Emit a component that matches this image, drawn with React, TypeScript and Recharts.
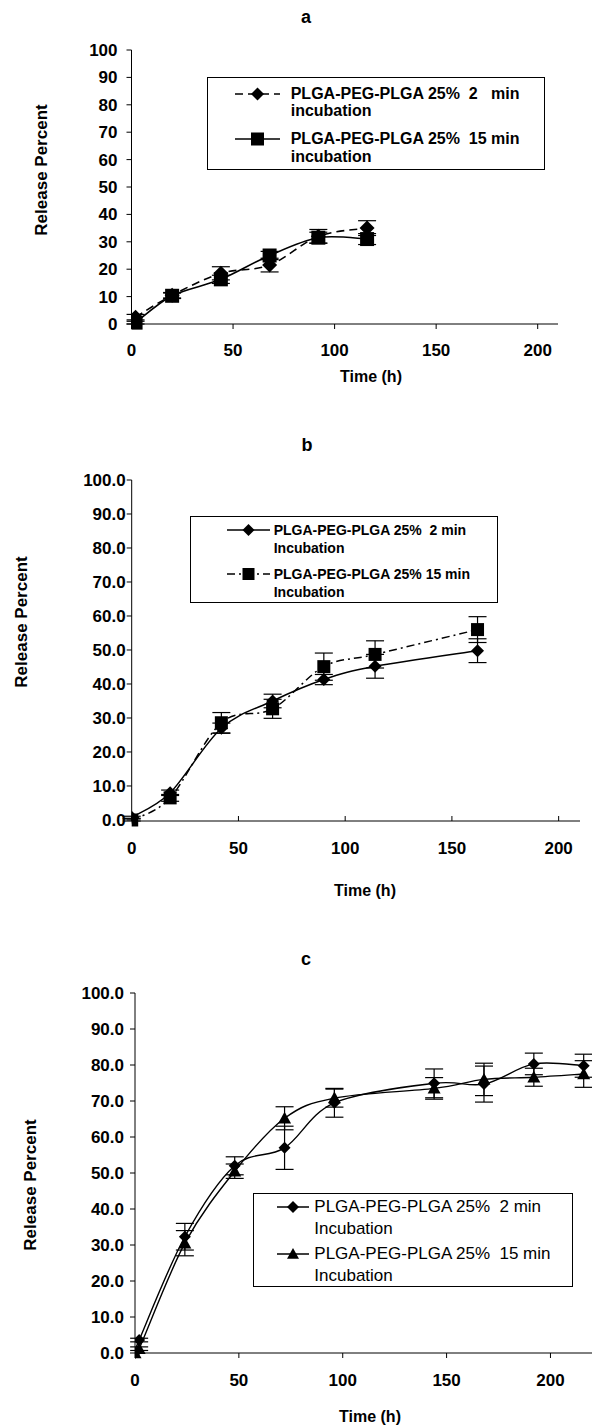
import React from "react";
import { ErrorBar, Legend, Line, LineChart, XAxis, YAxis } from "recharts";

const FONT = "'Liberation Sans', Arial, Helvetica, sans-serif";

// panel a – sampling times (h) and release (%)
const timeA = [2, 20, 44, 68, 92, 116];
const a2min = [2.5, 10.5, 18.5, 21.5, 32, 35];
const a2minErr = [1, 1, 2.4, 2.5, 2.5, 2.7];
const a15min = [0.5, 10.3, 16.3, 25, 31.5, 31];
const a15minErr = [0.5, 1, 1.5, 1.5, 2, 2];

// panel b
const timeB = [0, 18, 42, 66, 90, 114, 162];
const b2min = [0.8, 8, 27, 35, 41.3, 45.2, 49.8];
const b2minErr = [0.3, 0.8, 1.5, 2, 1.5, 3.5, 3.5];
const b15min = [0, 6.5, 28.6, 32.7, 45.1, 48.7, 56];
const b15minErr = [0.3, 1, 3, 2.8, 4, 4, 3.8];

// panel c
const timeC = [0, 2, 24, 48, 72, 96, 144, 168, 192, 216];
const c2min = [0, 3.6, 32.3, 52, 57, 69.5, 74.9, 74.7, 80.3, 79.8];
const c2minErr = [0, 0.5, 3.7, 2.5, 6, 4, 4, 5, 3, 3.2];
const c15min = [0, 1.2, 30.5, 50.5, 65.2, 70.8, 73.5, 76, 76.6, 77.5];
const c15minErr = [0, 0.5, 3.5, 2, 3.2, 2.5, 3, 4.5, 2.5, 3.7];

const xTicks = [0, 50, 100, 150, 200];
const yTicks = [0, 10, 20, 30, 40, 50, 60, 70, 80, 90, 100];

const build = (t: number[], s1: number[], e1: number[], s2: number[], e2: number[]) =>
  t.map((x, i) => ({ t: x, s1: s1[i], e1: e1[i], s2: s2[i], e2: e2[i] }));

// Excel-like smoothed line (Catmull-Rom through the points)
function smoothCurve(context: any) {
  let pts: number[][] = [];
  return {
    areaStart() {},
    areaEnd() {},
    lineStart() {
      pts = [];
    },
    point(x: number, y: number) {
      pts.push([+x, +y]);
    },
    lineEnd() {
      const n = pts.length;
      if (!n) return;
      context.moveTo(pts[0][0], pts[0][1]);
      for (let i = 0; i < n - 1; i++) {
        const p0 = pts[i - 1] || pts[i];
        const p1 = pts[i];
        const p2 = pts[i + 1];
        const p3 = pts[i + 2] || p2;
        context.bezierCurveTo(
          p1[0] + (p2[0] - p0[0]) / 6,
          p1[1] + (p2[1] - p0[1]) / 6,
          p2[0] - (p3[0] - p1[0]) / 6,
          p2[1] - (p3[1] - p1[1]) / 6,
          p2[0],
          p2[1],
        );
      }
    },
  };
}

type Marker = "diamond" | "square" | "triangle";

function markerShape(kind: Marker, cx: number, cy: number, s: number, key?: any) {
  if (kind === "diamond")
    return <path key={key} d={`M${cx},${cy - s}L${cx + s},${cy}L${cx},${cy + s}L${cx - s},${cy}Z`} fill="#000" />;
  if (kind === "square")
    return <rect key={key} x={cx - s} y={cy - s} width={2 * s} height={2 * s} fill="#000" />;
  return <path key={key} d={`M${cx},${cy - s}L${cx + s},${cy + s * 0.8}L${cx - s},${cy + s * 0.8}Z`} fill="#000" />;
}

const dotFor = (kind: Marker, s: number) => (p: any) =>
  markerShape(kind, p.cx, p.cy, s, `${kind}-${p.index}`);

interface SeriesCfg {
  key: "s1" | "s2";
  err: "e1" | "e2";
  marker: Marker;
  size: number;
  dash?: string;
  label: string[];
}

interface LegendCfg {
  left: number;
  top: number;
  width: number;
  height: number;
  fontSize: number;
  bold: boolean;
  lineHeight: number;
  rows: number[];
  symX1: number;
  symX2: number;
  textX: number;
  markerSize: number;
}

function LegendBox({ series, cfg }: { series: SeriesCfg[]; cfg: LegendCfg }) {
  return (
    <div
      style={{
        position: "relative",
        width: cfg.width,
        height: cfg.height,
        border: "1px solid #000",
        boxSizing: "border-box",
        background: "#fff",
        fontFamily: FONT,
        fontSize: cfg.fontSize,
        fontWeight: cfg.bold ? "bold" : "normal",
        color: "#000",
      }}
    >
      {series.map((s, i) => {
        const y = cfg.rows[i];
        const mid = (cfg.symX1 + cfg.symX2) / 2;
        return (
          <React.Fragment key={s.key}>
            <svg
              style={{ position: "absolute", left: 0, top: y - 10 }}
              width={cfg.symX2 + 2}
              height={20}
            >
              <line x1={cfg.symX1} x2={cfg.symX2} y1={10} y2={10} stroke="#000" strokeWidth={1.5} strokeDasharray={s.dash} />
              {markerShape(s.marker, mid, 10, cfg.markerSize)}
            </svg>
            {s.label.map((txt, j) => (
              <div
                key={j}
                style={{
                  position: "absolute",
                  left: cfg.textX,
                  top: y + j * cfg.lineHeight - cfg.lineHeight / 2,
                  height: cfg.lineHeight,
                  lineHeight: `${cfg.lineHeight}px`,
                  whiteSpace: "pre",
                }}
              >
                {txt}
              </div>
            ))}
          </React.Fragment>
        );
      })}
    </div>
  );
}

interface PanelCfg {
  title: string;
  top: number;
  height: number;
  margin: { top: number; right: number; bottom: number; left: number };
  xMax: number;
  data: any[];
  series: SeriesCfg[];
  legend: LegendCfg;
  yFmt: (v: number) => string;
  tickFont: number;
  yTickMargin: number;
  xTickSize: number;
  xTickMargin: number;
  titlePos: [number, number];
  xLabelPos: [number, number];
  yLabelPos: [number, number];
  strokeWidth: number;
}

const Y_AXIS_W = 70;
const X_AXIS_H = 40;

function Panel({ cfg }: { cfg: PanelCfg }) {
  const tick = { fontSize: cfg.tickFont, fontWeight: "bold", fill: "#000", fontFamily: FONT };
  const textStyle: React.CSSProperties = {
    position: "absolute",
    fontFamily: FONT,
    fontWeight: "bold",
    fontSize: 16,
    transform: "translate(-50%, -50%)",
    whiteSpace: "nowrap",
  };
  return (
    <div style={{ position: "absolute", left: 0, top: cfg.top, width: 592, height: cfg.height }}>
      <LineChart width={592} height={cfg.height} data={cfg.data} margin={cfg.margin}>
        <XAxis
          type="number"
          dataKey="t"
          domain={[0, cfg.xMax]}
          ticks={xTicks}
          allowDataOverflow
          stroke="#000"
          tick={tick}
          tickSize={cfg.xTickSize}
          tickMargin={cfg.xTickMargin}
          height={X_AXIS_H}
          interval={0}
        />
        <YAxis
          type="number"
          domain={[0, 100]}
          ticks={yTicks}
          stroke="#000"
          tick={tick}
          tickSize={5}
          tickMargin={cfg.yTickMargin}
          tickFormatter={cfg.yFmt}
          width={Y_AXIS_W}
          interval={0}
        />
        <Legend
          layout="vertical"
          align="center"
          verticalAlign="middle"
          wrapperStyle={{
            left: cfg.legend.left,
            top: cfg.legend.top,
            width: cfg.legend.width,
            height: cfg.legend.height,
          }}
          content={() => <LegendBox series={cfg.series} cfg={cfg.legend} />}
        />
        {cfg.series.map((s) => (
          <Line
            key={s.key}
            dataKey={s.key}
            type={smoothCurve as any}
            stroke="#000"
            strokeWidth={cfg.strokeWidth}
            strokeDasharray={s.dash}
            dot={dotFor(s.marker, s.size)}
            activeDot={false}
            isAnimationActive={false}
            name={s.label.join(" ")}
          >
            <ErrorBar dataKey={s.err} width={9} stroke="#000" strokeWidth={1.2} direction="y" />
          </Line>
        ))}
      </LineChart>
      <div style={{ ...textStyle, fontSize: 18, left: cfg.titlePos[0], top: cfg.titlePos[1] - cfg.top }}>{cfg.title}</div>
      <div style={{ ...textStyle, left: cfg.xLabelPos[0], top: cfg.xLabelPos[1] - cfg.top }}>Time (h)</div>
      <div
        style={{
          ...textStyle,
          fontSize: 17,
          left: cfg.yLabelPos[0],
          top: cfg.yLabelPos[1] - cfg.top,
          transform: "translate(-50%, -50%) rotate(-90deg)",
        }}
      >
        Release Percent
      </div>
    </div>
  );
}

const fmtInt = (v: number) => String(v);
const fmtDec = (v: number) => v.toFixed(1);

const panels: PanelCfg[] = [
  {
    title: "a",
    top: 0,
    height: 400,
    margin: { top: 50, right: 34, bottom: 400 - 324 - X_AXIS_H, left: 131.5 - Y_AXIS_W },
    xMax: 210,
    data: build(timeA, a2min, a2minErr, a15min, a15minErr),
    series: [
      { key: "s1", err: "e1", marker: "diamond", size: 7.5, dash: "8 5", label: ["PLGA-PEG-PLGA 25%  2   min", "incubation"] },
      { key: "s2", err: "e2", marker: "square", size: 7, label: ["PLGA-PEG-PLGA 25%  15 min", "incubation"] },
    ],
    legend: {
      left: 206.7, top: 76.7, width: 338, height: 93.3, fontSize: 16, bold: true, lineHeight: 17.3,
      rows: [16, 61.3], symX1: 27, symX2: 72, textX: 83, markerSize: 6.5,
    },
    yFmt: fmtInt,
    tickFont: 17,
    yTickMargin: 9,
    xTickSize: 5,
    xTickMargin: 15,
    titlePos: [306, 17],
    xLabelPos: [371, 377],
    yLabelPos: [42, 170],
    strokeWidth: 1.6,
  },
  {
    title: "b",
    top: 430,
    height: 480,
    margin: { top: 50, right: 12, bottom: 480 - 391 - X_AXIS_H, left: 131.7 - Y_AXIS_W },
    xMax: 210,
    data: build(timeB, b2min, b2minErr, b15min, b15minErr),
    series: [
      { key: "s1", err: "e1", marker: "diamond", size: 6.5, label: ["PLGA-PEG-PLGA 25%  2 min", "Incubation"] },
      { key: "s2", err: "e2", marker: "square", size: 6.5, dash: "8 4 2 4", label: ["PLGA-PEG-PLGA 25% 15 min", "Incubation"] },
    ],
    legend: {
      left: 190.3, top: 85.6, width: 307.4, height: 87, fontSize: 14, bold: true, lineHeight: 18,
      rows: [13.4, 57.4], symX1: 36, symX2: 79, textX: 82.4, markerSize: 6,
    },
    yFmt: fmtDec,
    tickFont: 17,
    yTickMargin: 1,
    xTickSize: -5,
    xTickMargin: 26,
    titlePos: [307, 445],
    xLabelPos: [365, 891],
    yLabelPos: [22, 622],
    strokeWidth: 1.5,
  },
  {
    title: "c",
    top: 930,
    height: 498,
    margin: { top: 63, right: 0, bottom: 498 - 423 - X_AXIS_H, left: 135 - Y_AXIS_W },
    xMax: 220,
    data: build(timeC, c2min, c2minErr, c15min, c15minErr),
    series: [
      { key: "s1", err: "e1", marker: "diamond", size: 6, label: ["PLGA-PEG-PLGA 25%  2 min", "Incubation"] },
      { key: "s2", err: "e2", marker: "triangle", size: 6.5, label: ["PLGA-PEG-PLGA 25%  15 min", "Incubation"] },
    ],
    legend: {
      left: 253.3, top: 262.7, width: 319.4, height: 94.3, fontSize: 17, bold: false, lineHeight: 22,
      rows: [13.3, 60.3], symX1: 23, symX2: 55, textX: 60, markerSize: 6,
    },
    yFmt: fmtDec,
    tickFont: 17,
    yTickMargin: 6,
    xTickSize: 5,
    xTickMargin: 16,
    titlePos: [306, 959],
    xLabelPos: [370, 1417],
    yLabelPos: [31, 1185],
    strokeWidth: 1.4,
  },
];

export default function App() {
  return (
    <div style={{ position: "absolute", left: 0, top: 0, width: 592, height: 1428, background: "#fff", overflow: "hidden" }}>
      {panels.map((p) => (
        <Panel key={p.title} cfg={p} />
      ))}
    </div>
  );
}
